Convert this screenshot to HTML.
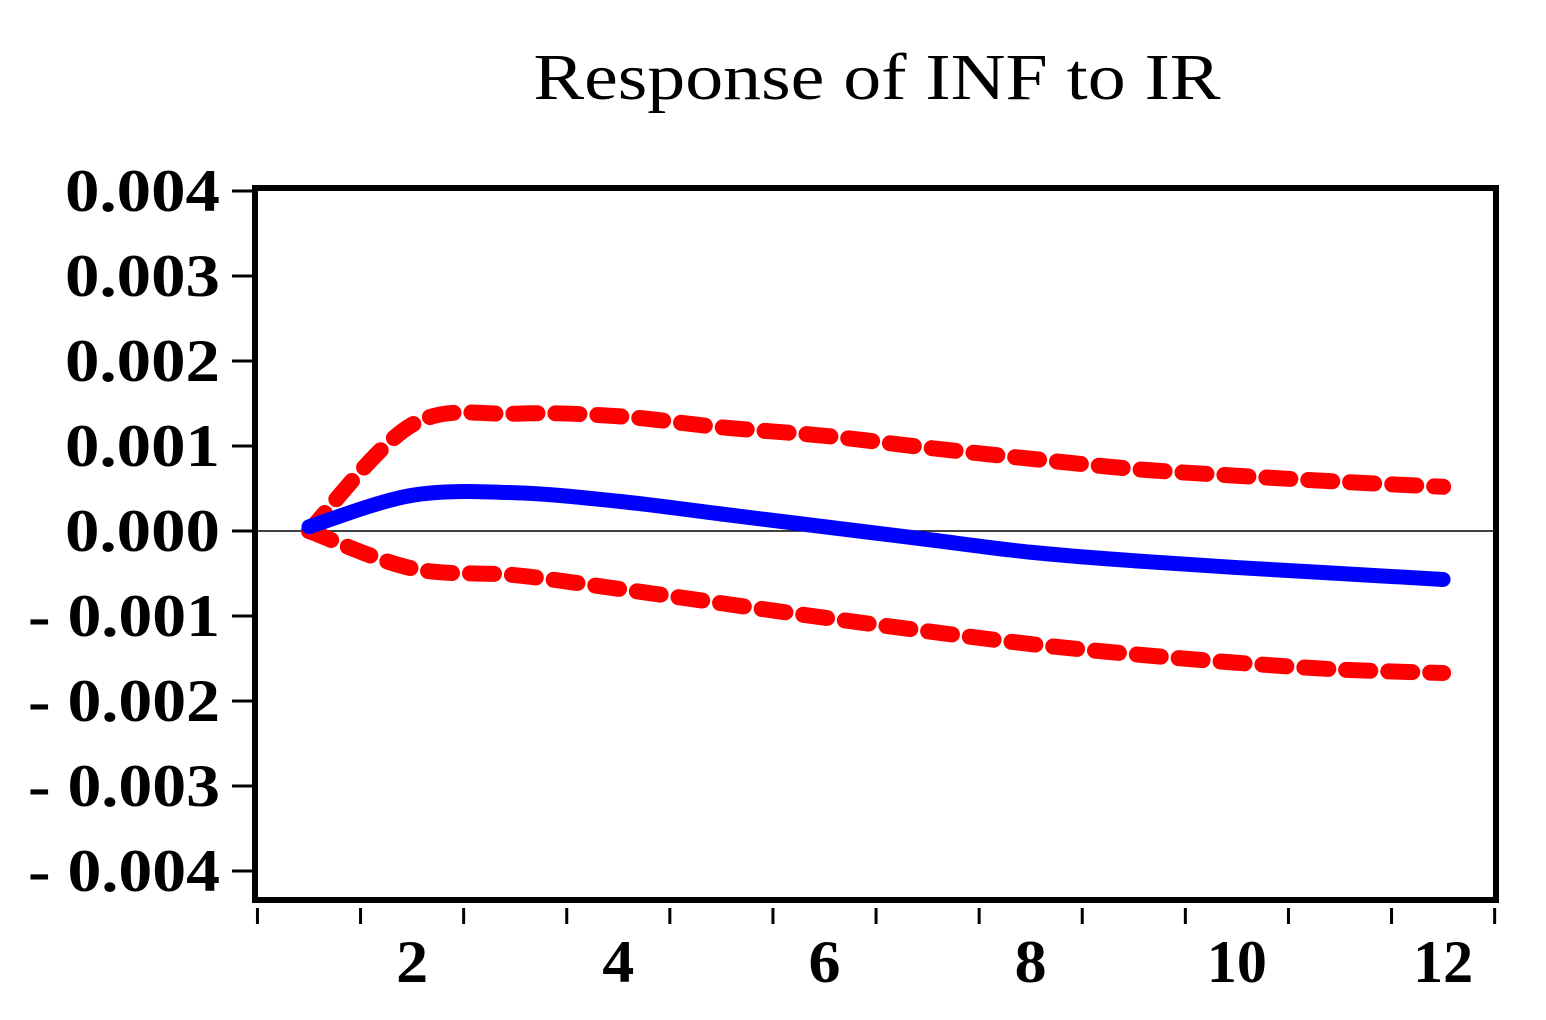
<!DOCTYPE html>
<html><head><meta charset="utf-8"><style>
body{margin:0;background:#fff}
svg text{font-family:"Liberation Serif",serif;fill:#000}
</style></head><body>
<svg width="1546" height="1015" viewBox="0 0 1546 1015">
<text x="877" y="99" font-size="66" text-anchor="middle" textLength="687" lengthAdjust="spacingAndGlyphs">Response of INF to IR</text>
<g id="yaxis"></g>
<g id="xaxis"></g>
<line x1="255" y1="531" x2="1496" y2="531" stroke="#000" stroke-width="1.5"/>
<g id="series"></g>
<rect x="255" y="188" width="1241" height="712" fill="none" stroke="#000" stroke-width="6"/>
</svg>
<script>
const periods=[1,2,3,4,5,6,7,8,9,10,11,12];
const response=[0.00005,0.00042,0.00045,0.00035,0.0002,0.00005,-0.0001,-0.00025,-0.00035,-0.00043,-0.0005,-0.00057];
const upperBand=[0,0.00125,0.00138,0.00135,0.00122,0.00112,0.00098,0.00085,0.00073,0.00065,0.00058,0.00052];
const lowerBand=[0,-0.00044,-0.00052,-0.00068,-0.00085,-0.00102,-0.00118,-0.00133,-0.00145,-0.00155,-0.00163,-0.00167];
const yTicks=[0.004,0.003,0.002,0.001,0,-0.001,-0.002,-0.003,-0.004];
const yTickLabels=["0.004","0.003","0.002","0.001","0.000","- 0.001","- 0.002","- 0.003","- 0.004"];
const xTickLabels=[2,4,6,8,10,12];
const NS="http://www.w3.org/2000/svg";
const X=p=>309+(p-1)*103.1;
const Y=v=>531-v*85000;
function mk(t,a,parent){const e=document.createElementNS(NS,t);for(const k in a)e.setAttribute(k,a[k]);parent.appendChild(e);return e;}
const ya=document.getElementById('yaxis'),xa=document.getElementById('xaxis'),sg=document.getElementById('series');
yTicks.forEach((v,i)=>{
 const l=mk('line',{x1:232,x2:252,y1:Y(v),y2:Y(v),stroke:'#000','stroke-width':3},ya);
 
 
 const lab=yTickLabels[i];
 const w=lab.startsWith('-')?192:155;
 const t=mk('text',{x:220,y:Y(v)+20,'font-size':60,'font-weight':'bold','text-anchor':'end',textLength:w,lengthAdjust:'spacingAndGlyphs'},ya);
 t.textContent=lab;
 
 
});
for(let i=0;i<=12;i++){
 const x=X(i+0.5);
 const l=mk('line',{x1:x,x2:x,y1:908,y2:924,stroke:'#000','stroke-width':3},xa);
 
 
}
xTickLabels.forEach(p=>{
 const w=p>=10?60:32;
 const t=mk('text',{x:X(p),y:982,'font-size':60,'font-weight':'bold','text-anchor':'middle',textLength:w,lengthAdjust:'spacingAndGlyphs'},xa);
 t.textContent=p;
 
 
});
function smooth(vals){
 const pts=vals.map((v,i)=>[X(periods[i]),Y(v)]);
 let d='M'+pts[0][0]+','+pts[0][1];
 for(let i=0;i<pts.length-1;i++){
  const p0=pts[Math.max(i-1,0)],p1=pts[i],p2=pts[i+1],p3=pts[Math.min(i+2,pts.length-1)];
  const c1=[p1[0]+(p2[0]-p0[0])/6,p1[1]+(p2[1]-p0[1])/6],c2=[p2[0]-(p3[0]-p1[0])/6,p2[1]-(p3[1]-p1[1])/6];
  d+=` C${c1[0]},${c1[1]} ${c2[0]},${c2[1]} ${p2[0]},${p2[1]}`;
 }
 return d;
}
const up=mk('path',{d:smooth(upperBand),fill:'none',stroke:'#f00','stroke-width':16,'stroke-dasharray':'24 18','stroke-linecap':'round'},sg);


const lo=mk('path',{d:smooth(lowerBand),fill:'none',stroke:'#f00','stroke-width':16,'stroke-dasharray':'24 18','stroke-linecap':'round'},sg);


const rs=mk('path',{d:smooth(response),fill:'none',stroke:'#00f','stroke-width':15,'stroke-linecap':'round'},sg);


</script>
</body></html>
